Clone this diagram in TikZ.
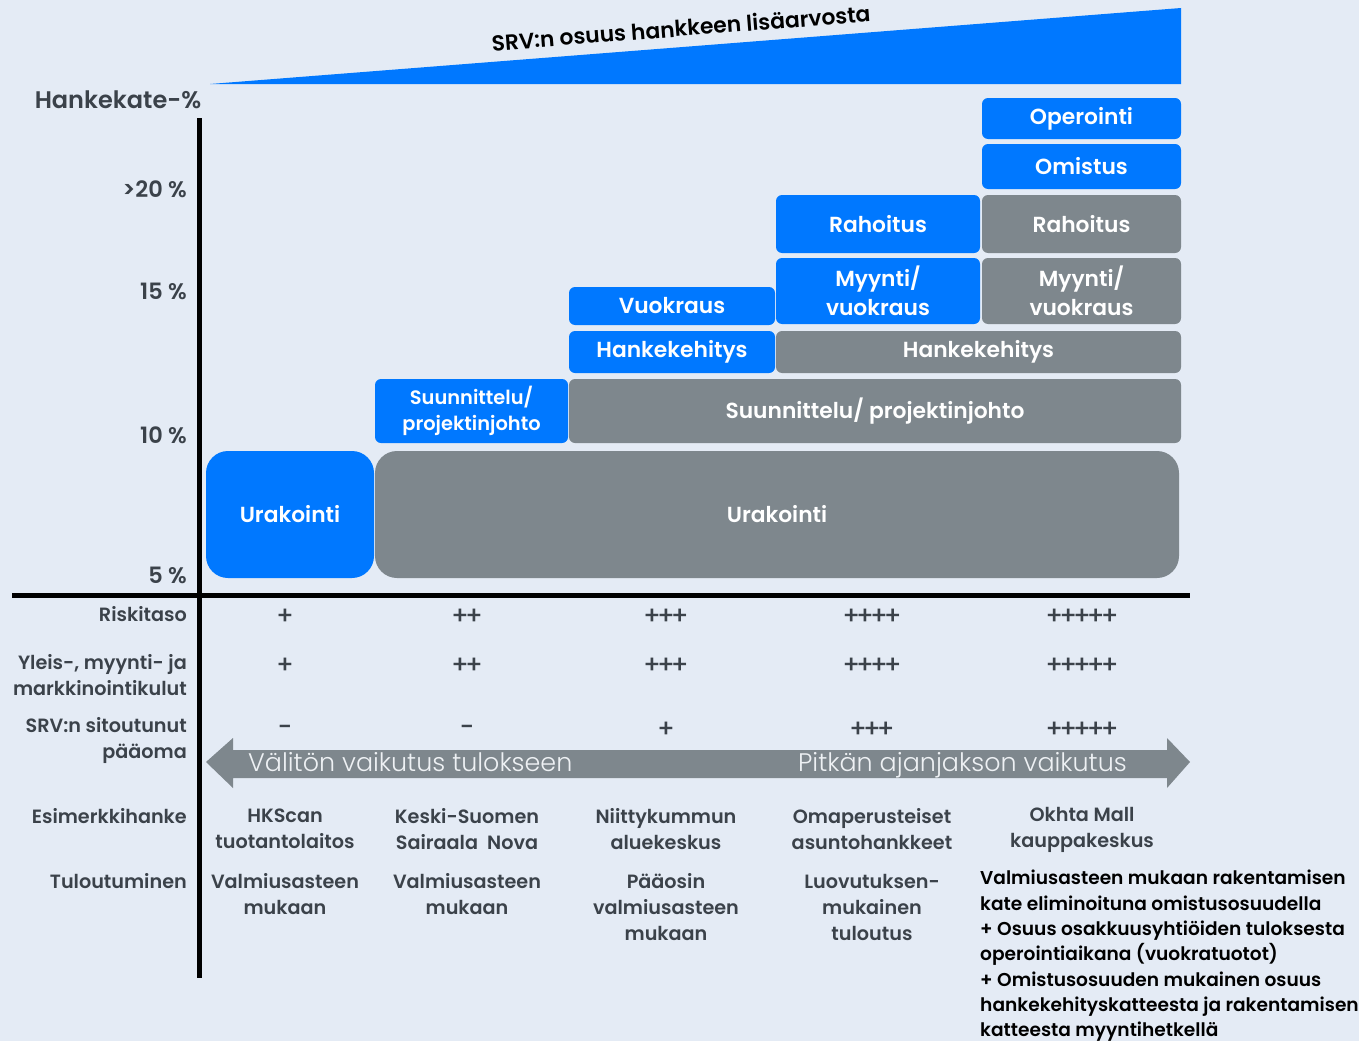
\documentclass[tikz,border=0pt]{standalone}
\usepackage{fontspec}
\setmainfont{Poppins}[BoldFont={Poppins SemiBold}]
\newfontfamily\lightfont{Poppins Light}
\newfontfamily\plusfont{Poppins Medium}[LetterSpace=-16]
\usepackage{tikz}
\usetikzlibrary{positioning}
\definecolor{srvblue}{HTML}{0078FF}
\definecolor{srvgrey}{HTML}{7E878D}
\definecolor{bgblue}{HTML}{E4EBF5}
\definecolor{labgrey}{HTML}{3B424A}
\definecolor{arrtext}{HTML}{EEF1F4}
\tikzset{blk/.style={rounded corners=6pt,inner sep=0pt,align=center,text=white,font=\fontsize{21.8}{28.5}\selectfont\bfseries},
  bluebox/.style={blk,fill=srvblue},
  greybox/.style={blk,fill=srvgrey},
  pct/.style={anchor=east,inner sep=0pt,text=labgrey,font=\fontsize{22.5}{25}\selectfont\bfseries},
  rowlab/.style={anchor=east,inner sep=0pt,align=right,text=labgrey,font=\fontsize{19.2}{26}\selectfont\bfseries},
  cell/.style={align=center,text=labgrey,font=\fontsize{19.2}{26}\selectfont\bfseries},
  plus/.style={text=labgrey,font=\fontsize{25}{26}\plusfont}}

\begin{document}
\begin{tikzpicture}[x=1pt,y=-1pt]
        %Background
        \fill[bgblue] (0,0) rectangle (1359,1041);
        \useasboundingbox (0,0) rectangle (1359,1041);
        %Wedge
        \fill[srvblue] (210,84) -- (1181,8) -- (1181,84) -- cycle;
        \node[rotate=4.5,font=\fontsize{21.8}{24}\selectfont\bfseries] (share) at (681,28) {SRV:n osuus hankkeen lisäarvosta};
        %Axes
        \coordinate (ytop) at (199,118);
        \coordinate (ybot) at (199,978);
        \coordinate (xleft) at (12,595);
        \coordinate (xright) at (1190,595);
        \draw[line width=5pt] (ytop) -- (ybot);
        \draw[line width=5pt] (xleft) -- (xright);
        \node[text=labgrey,font=\fontsize{24}{28}\selectfont\bfseries] (ytitle) at (118,100) {Hankekate-\%};
        \node[pct] (p20) at (187,189) {>20 \%};
        \node[pct] (p15) at (187,291) {15 \%};
        \node[pct] (p10) at (187,435) {10 \%};
        \node[pct] (p5) at (187,575) {5 \%};
        %%%%%%%%%%%%%%%%%%%%%% BLOCKS %%%%%%%%%%%%%%%%%%%%%%
        \node[bluebox,rounded corners=22pt,minimum width=168pt,minimum height=127pt] (urakA) at (290,514.5) {Urakointi};
        \node[greybox,rounded corners=22pt,minimum width=804pt,minimum height=127pt] (urakB) at (777,514.5) {Urakointi};
        \node[bluebox,minimum width=193pt,minimum height=64pt,font=\fontsize{19.4}{26}\selectfont\bfseries] (suunA) at (471.5,411) {Suunnittelu/\\projektinjohto};
        \node[greybox,minimum width=612pt,minimum height=64pt] (suunB) at (875,411) {Suunnittelu/ projektinjohto};
        \node[bluebox,minimum width=206pt,minimum height=42pt] (hankA) at (672,352) {Hankekehitys};
        \node[greybox,minimum width=405pt,minimum height=42pt] (hankB) at (978.5,352) {Hankekehitys};
        \node[bluebox,minimum width=206pt,minimum height=38pt] (vuokA) at (672,306) {Vuokraus};
        \node[bluebox,minimum width=204pt,minimum height=66pt] (myynA) at (878,291) {Myynti/\\vuokraus};
        \node[greybox,minimum width=199pt,minimum height=66pt] (myynB) at (1081.5,291) {Myynti/\\vuokraus};
        \node[bluebox,minimum width=204pt,minimum height=58pt] (rahoA) at (878,224) {Rahoitus};
        \node[greybox,minimum width=199pt,minimum height=58pt] (rahoB) at (1081.5,224) {Rahoitus};
        \node[bluebox,minimum width=199pt,minimum height=45pt] (omisA) at (1081.5,166.5) {Omistus};
        \node[bluebox,minimum width=199pt,minimum height=41pt] (operA) at (1081.5,118.5) {Operointi};
        %%%%%%%%%%%%%%%%%%%%%% TABLE %%%%%%%%%%%%%%%%%%%%%%
        \node[rowlab] (risk) at (187,614) {Riskitaso};
        \node[rowlab] (cost) at (187,675) {Yleis-, myynti- ja\\markkinointikulut};
        \node[rowlab] (capital) at (187,740) {SRV:n sitoutunut\\pääoma};
        \node[rowlab] (example) at (187,816) {Esimerkkihanke};
        \node[rowlab] (income) at (187,881) {Tuloutuminen};
        \node[plus] (r1) at (285,617) {+};
        \node[plus] (r2) at (467,617) {++};
        \node[plus] (r3) at (666,617) {+++};
        \node[plus] (r4) at (872,617) {++++};
        \node[plus] (r5) at (1082,617) {+++++};
        \node[plus] (c1) at (285,666) {+};
        \node[plus] (c2) at (467,666) {++};
        \node[plus] (c3) at (666,666) {+++};
        \node[plus] (c4) at (872,666) {++++};
        \node[plus] (c5) at (1082,666) {+++++};
        \node[plus] (k1) at (285,730) {-};
        \node[plus] (k2) at (467,730) {-};
        \node[plus] (k3) at (666,730) {+};
        \node[plus] (k4) at (872,730) {+++};
        \node[plus] (k5) at (1082,730) {+++++};
        %Arrow
        \fill[srvgrey] (206,762) -- (233,738) -- (233,750) -- (1167,750) -- (1167,738) -- (1190,762) -- (1167,788) -- (1167,778) -- (233,778) -- (233,788) -- cycle;
        \node[anchor=base west,inner sep=0pt,text=arrtext,font=\fontsize{25.4}{28}\lightfont] (short) at (248,771) {Välitön vaikutus tulokseen};
        \node[anchor=base east,inner sep=0pt,text=arrtext,font=\fontsize{25.4}{28}\lightfont] (long) at (1127,771) {Pitkän ajanjakson vaikutus};
        %Examples
        \node[cell] (e1) at (285,829) {HKScan\\tuotantolaitos};
        \node[cell] (e2) at (467,829) {Keski-Suomen\\Sairaala~ Nova};
        \node[cell] (e3) at (666,829) {Niittykummun\\aluekeskus};
        \node[cell] (e4) at (872,829) {Omaperusteiset\\asuntohankkeet};
        \node[cell] (e5) at (1082,830) {Okhta Mall\\kauppakeskus};
        %Income
        \node[cell] (t1) at (285,894) {Valmiusasteen\\mukaan};
        \node[cell] (t2) at (467,894) {Valmiusasteen\\mukaan};
        \node[cell] (t3) at (666,907) {Pääosin\\valmiusasteen\\mukaan};
        \node[cell] (t4) at (872,907) {Luovutuksen-\\mukainen\\tuloutus};
        \node[cell,anchor=west,inner sep=0pt,align=left,text=black,font=\fontsize{18.6}{25.3}\selectfont\bfseries] (t5) at (980,956) {Valmiusasteen mukaan rakentamisen\\kate eliminoituna omistusosuudella\\+ Osuus osakkuusyhtiöiden tuloksesta\\operointiaikana (vuokratuotot)\\+ Omistusosuuden mukainen osuus\\hankekehityskatteesta ja rakentamisen\\katteesta myyntihetkellä};
\end{tikzpicture}
\end{document}
